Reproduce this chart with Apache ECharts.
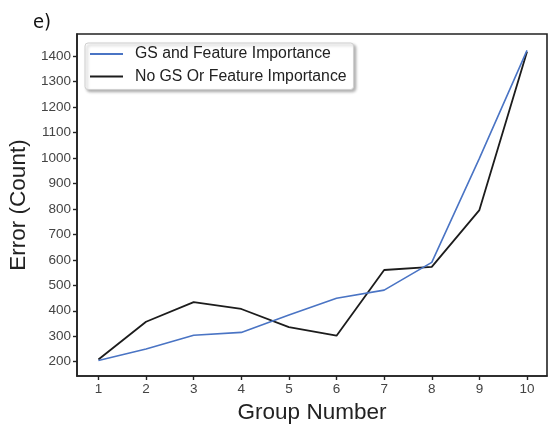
<!DOCTYPE html>
<html>
<head>
<meta charset="utf-8">
<script src="https://cdn.jsdelivr.net/npm/echarts@6/dist/echarts.min.js"></script>
<style>
html,body{margin:0;padding:0;background:#fff;}
#c{width:548px;height:427px;}
</style>
</head>
<body>
<div id="c"></div>
<script>
const groups = [1, 2, 3, 4, 5, 6, 7, 8, 9, 10];
const gsFeature = [205, 250, 304, 315, 383, 449, 481, 590, 998, 1422];
const noGsFeature = [209, 357, 434, 407, 336, 302, 560, 572, 795, 1416];
const yTicks = [200, 300, 400, 500, 600, 700, 800, 900, 1000, 1100, 1200, 1300, 1400];
const seriesNames = ['GS and Feature Importance', 'No GS Or Feature Importance'];

const FONT = '"Liberation Sans", Arial, sans-serif';
const chart = echarts.init(document.getElementById('c'), null, {renderer: 'canvas'});

function pairs(vals) { return groups.map((g, i) => [g, vals[i]]); }

chart.setOption({
  animation: false,
  backgroundColor: '#fff',
  title: {
    text: 'e)',
    left: 28, top: 8,
    textStyle: {fontFamily: '"Liberation Sans Narrow", "DejaVu Sans Condensed", sans-serif', fontSize: 20, fontWeight: 'normal', color: '#111'}
  },
  grid: {left: 77, right: 1, top: 34, bottom: 51, outerBoundsMode: 'none', containLabel: false, show: true, borderColor: '#222', borderWidth: 1.6, backgroundColor: 'transparent'},
  legend: {
    orient: 'vertical',
    left: 85, top: 43,
    data: seriesNames,
    icon: 'rect',
    itemWidth: 33, itemHeight: 2,
    itemGap: 6.5,
    padding: [3, 7, 5, 5],
    backgroundColor: '#fff',
    borderColor: '#d0d0d0', borderWidth: 1, borderRadius: 3,
    shadowColor: 'rgba(0,0,0,0.3)', shadowBlur: 3, shadowOffsetX: 2, shadowOffsetY: 2,
    textStyle: {fontFamily: FONT, fontSize: 15.8, color: '#222', lineHeight: 16, padding: [0, 0, 0, 7]}
  },
  xAxis: {
    type: 'value',
    min: 0.55, max: 10.42,
    name: 'Group Number',
    nameLocation: 'middle',
    nameGap: 22,
    nameTextStyle: {fontFamily: FONT, fontSize: 22.5, color: '#222'},
    axisLine: {show: true, lineStyle: {color: '#222', width: 1.6}},
    axisTick: {show: true, inside: false, length: 4, lineStyle: {color: '#222', width: 1.4}, customValues: groups},
    axisLabel: {fontFamily: FONT, fontSize: 13.5, color: '#444', margin: 6, customValues: groups},
    splitLine: {show: false}
  },
  yAxis: {
    type: 'value',
    min: 144, max: 1486,
    name: 'Error (Count)',
    nameLocation: 'middle',
    nameGap: 40,
    nameRotate: 90,
    nameTextStyle: {fontFamily: FONT, fontSize: 22.5, color: '#222'},
    axisLine: {show: true, lineStyle: {color: '#222', width: 1.6}},
    axisTick: {show: true, inside: false, length: 4, lineStyle: {color: '#222', width: 1.4}, customValues: yTicks},
    axisLabel: {fontFamily: FONT, fontSize: 13.5, color: '#444', margin: 6, customValues: yTicks, formatter: v => String(v)},
    splitLine: {show: false}
  },
  series: [
    {
      name: seriesNames[0], type: 'line', data: pairs(gsFeature),
      showSymbol: false, symbol: 'none',
      lineStyle: {color: '#4a74c4', width: 1.6},
      itemStyle: {color: '#4a74c4'},
      z: 3
    },
    {
      name: seriesNames[1], type: 'line', data: pairs(noGsFeature),
      showSymbol: false, symbol: 'none',
      lineStyle: {color: '#1c1c1c', width: 1.8},
      itemStyle: {color: '#1c1c1c'},
      z: 2
    }
  ]
});
</script>
</body>
</html>
